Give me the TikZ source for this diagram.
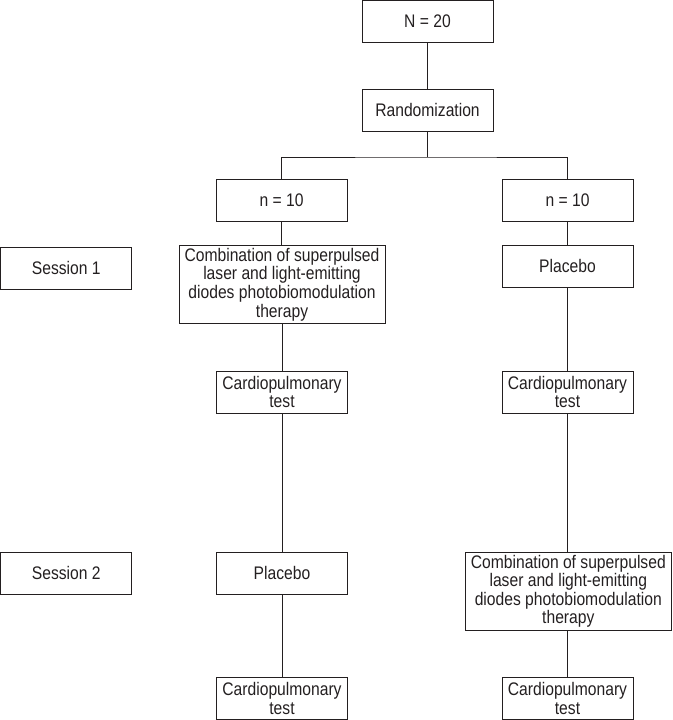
\documentclass[tikz,border=0pt]{standalone}
\usepackage{fontspec}
\setmainfont[FakeStretch=0.86]{Liberation Sans}
\definecolor{ink}{HTML}{231F20}
\begin{document}
\begin{tikzpicture}[x=1pt,y=-1pt,
  box/.style={draw=ink, line width=1pt, rectangle, inner sep=0pt, align=center,
    minimum width=131pt, minimum height=42pt, text=ink,
    font=\fontsize{18.2}{18.6}\selectfont},
  wide/.style={box, minimum width=206pt, minimum height=78.5pt},
  link/.style={draw=ink, line width=1pt}]
\useasboundingbox (0,0) rectangle (672,720);
\node[box] (n20) at (427.5,21.5) {N = 20};
\node[box] (rand) at (427.5,110) {Randomization};
\node[box] (n10L) at (281.5,200) {n = 10};
\node[box] (n10R) at (567.5,200) {n = 10};
\node[box] (s1) at (66.3,268) {Session 1};
\node[wide] (combL) at (282,284.5) {Combination of superpulsed\\laser and light-emitting\\diodes photobiomodulation\\therapy};
\node[box] (placR) at (567.5,266.3) {Placebo};
\node[box] (cardL1) at (282,392) {Cardiopulmonary\\test};
\node[box] (cardR1) at (567.5,392) {Cardiopulmonary\\test};
\node[box] (s2) at (66.3,573.3) {Session 2};
\node[box] (placL) at (282,573.3) {Placebo};
\node[wide] (combR) at (568.3,591.3) {Combination of superpulsed\\laser and light-emitting\\diodes photobiomodulation\\therapy};
\node[box] (cardL2) at (282,698.3) {Cardiopulmonary\\test};
\node[box] (cardR2) at (567.5,698.3) {Cardiopulmonary\\test};
\coordinate (split) at (427.5,157);
\draw[link] (n20) -- (rand);
\draw[link] (rand.south) -- (split);
\draw[link] (n10L.north) |- (split) -| (n10R.north);
\draw[link] (n10L.south) -- (n10L.south |- combL.north);
\draw[link] (combL.south) -- (cardL1.north);
\draw[link] (cardL1.south) -- (placL.north);
\draw[link] (placL.south) -- (cardL2.north);
\draw[link] (n10R.south) -- (placR.north);
\draw[link] (placR.south) -- (cardR1.north);
\draw[link] (cardR1.south) -- (cardR1.south |- combR.north);
\draw[link] (cardR2.north |- combR.south) -- (cardR2.north);
\end{tikzpicture}
\end{document}
